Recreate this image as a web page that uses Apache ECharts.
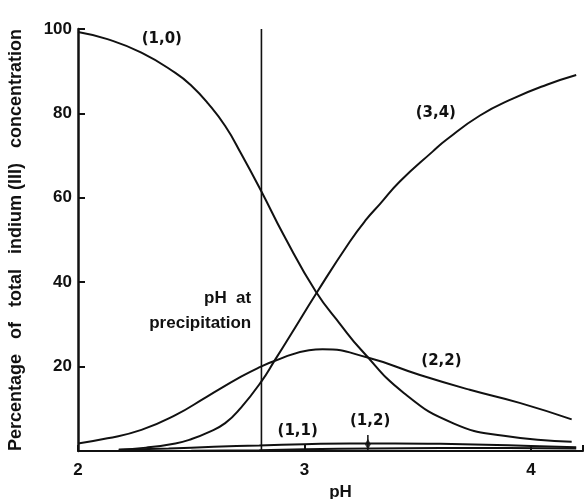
<!DOCTYPE html>
<html>
<head>
<meta charset="utf-8">
<script src="https://cdn.jsdelivr.net/npm/echarts@6/dist/echarts.min.js"></script>
<style>html,body{margin:0;padding:0;background:#fff;}#c{width:584px;height:499px;}</style>
</head>
<body>
<div id="c"></div>
<script>
// ---- data ----
const pH10 = [2.0, 2.13, 2.28, 2.43, 2.5, 2.575, 2.65, 2.72, 2.81, 2.91, 3.05, 3.16, 3.25, 3.44, 3.66, 3.88, 4.18];
const val10 = [99.3, 97.6, 94.4, 89.6, 86.6, 82.3, 77, 70.5, 61.5, 51, 37.8, 29.9, 24, 13.7, 6.5, 3.6, 2.2];

const pH22 = [2.0, 2.13, 2.28, 2.43, 2.57, 2.72, 2.80, 2.87, 3.02, 3.08, 3.275, 3.51, 3.73, 3.95, 4.18];
const val22 = [1.8, 3.0, 5.0, 8.5, 12.9, 17.6, 19.8, 21.4, 23.9, 24.1, 22.2, 18, 14.5, 11.4, 7.5];

const pH34 = [2.18, 2.3, 2.43, 2.5, 2.57, 2.65, 2.72, 2.81, 2.87, 2.94, 3.054, 3.2, 3.275, 3.333, 3.42, 3.567, 3.628, 3.775, 3.92, 4.07, 4.2];
const val34 = [0.3, 0.8, 1.8, 2.8, 4.3, 6.6, 10.3, 16.5, 21.6, 27.6, 37.5, 49.6, 55, 58.5, 63.8, 71, 73.8, 79.5, 83.5, 86.8, 89.1];

const pH11 = [2.18, 2.4, 2.6, 2.8, 3.0, 3.2, 3.4, 3.6, 3.8, 4.0, 4.2];
const val11 = [0.3, 0.6, 1.0, 1.3, 1.6, 1.8, 1.8, 1.7, 1.5, 1.2, 0.9];

const pH12 = [2.5, 2.8, 3.0, 3.3, 3.6, 3.9, 4.2];
const val12 = [0.05, 0.2, 0.4, 0.6, 0.7, 0.7, 0.6];

const precipPH = 2.81;
const marker12PH = 3.28;

const xTicks = [2, 3, 4];
const yTicks = [0, 20, 40, 60, 80, 100];

const seriesNames = ['(1,0)', '(2,2)', '(3,4)', '(1,1)', '(1,2)'];
// --------------------------------------

const zip = (a, b) => a.map((x, i) => [x, b[i]]);
const FONT = 'Liberation Sans';
const LFONT = 'DejaVu Sans';
const INK = '#111';

const lbl = (text, coord, extra) => ({
  symbol: 'circle', symbolSize: 0, silent: true,
  label: Object.assign({ show: true, formatter: text, color: INK, fontFamily: LFONT, fontSize: 15, fontWeight: 'bold' }, extra || {}),
  data: [{ coord: coord }]
});

const curve = (name, data, mp) => ({
  name: name, type: 'line', data: data, smooth: 0.5, showSymbol: false,
  lineStyle: { color: INK, width: 2 }, silent: true, animation: false,
  markPoint: mp
});

const chart = echarts.init(document.getElementById('c'));
chart.setOption({
  animation: false,
  backgroundColor: '#fff',
  grid: { left: 78, right: 1, top: 29, bottom: 48, containLabel: false, outerBoundsMode: 'none' },
  xAxis: {
    type: 'value', min: 2, max: 4.23, interval: 1,
    name: 'pH', nameLocation: 'middle', nameGap: 29,
    nameTextStyle: { color: INK, fontFamily: FONT, fontSize: 17, fontWeight: 'bold', padding: [0, 0, 0, 20] },
    axisLine: { lineStyle: { color: INK, width: 2 } },
    axisTick: { inside: true, length: 6, lineStyle: { color: INK, width: 2 } },
    axisLabel: { color: INK, fontFamily: FONT, fontSize: 17, fontWeight: 'bold', margin: 11,
      formatter: v => xTicks.includes(v) ? String(v) : '' },
    splitLine: { show: false }
  },
  yAxis: {
    type: 'value', min: 0, max: 100, interval: 20,
    name: 'Percentage   of   total   indium (III)   concentration', nameLocation: 'middle', nameGap: 53,
    nameTextStyle: { color: INK, fontFamily: FONT, fontSize: 18, fontWeight: 'bold' },
    axisLine: { show: true, lineStyle: { color: INK, width: 2.5 } },
    axisTick: { show: true, inside: true, length: 7, lineStyle: { color: INK, width: 2 } },
    axisLabel: { color: INK, fontFamily: FONT, fontSize: 17, fontWeight: 'bold', margin: 6,
      formatter: v => (v === 0 ? '' : (yTicks.includes(v) ? String(v) : '')) },
    splitLine: { show: false }
  },
  series: [
    curve(seriesNames[0], zip(pH10, val10), lbl('(1,0)', [2.37, 97.6])),
    curve(seriesNames[1], zip(pH22, val22), lbl('(2,2)', [3.605, 21.2])),
    curve(seriesNames[2], zip(pH34, val34), lbl('(3,4)', [3.58, 80])),
    curve(seriesNames[3], zip(pH11, val11), lbl('(1,1)', [2.97, 4.6])),
    curve(seriesNames[4], zip(pH12, val12), lbl('(1,2)', [3.29, 7])),
    {
      name: 'precipitation', type: 'line', data: [[precipPH, 0], [precipPH, 100]],
      showSymbol: false, lineStyle: { color: INK, width: 1.6 }, silent: true,
      markPoint: {
        symbol: 'circle', symbolSize: 0, silent: true,
        label: { show: true, color: INK, fontFamily: FONT, fontSize: 17, fontWeight: 'bold', align: 'right', lineHeight: 25 },
        data: [{ coord: [2.765, 33.3], label: { formatter: 'pH  at\nprecipitation' } }]
      }
    },
    {
      name: 'marker12', type: 'line', data: [[marker12PH, 0.2], [marker12PH, 3.8]],
      showSymbol: false, lineStyle: { color: INK, width: 1.5 }, silent: true
    },
    {
      name: 'marker12dot', type: 'scatter', data: [[marker12PH, 1.6]],
      symbol: 'diamond', symbolSize: [6, 11], itemStyle: { color: INK }, silent: true
    }
  ]
});
</script>
</body>
</html>
